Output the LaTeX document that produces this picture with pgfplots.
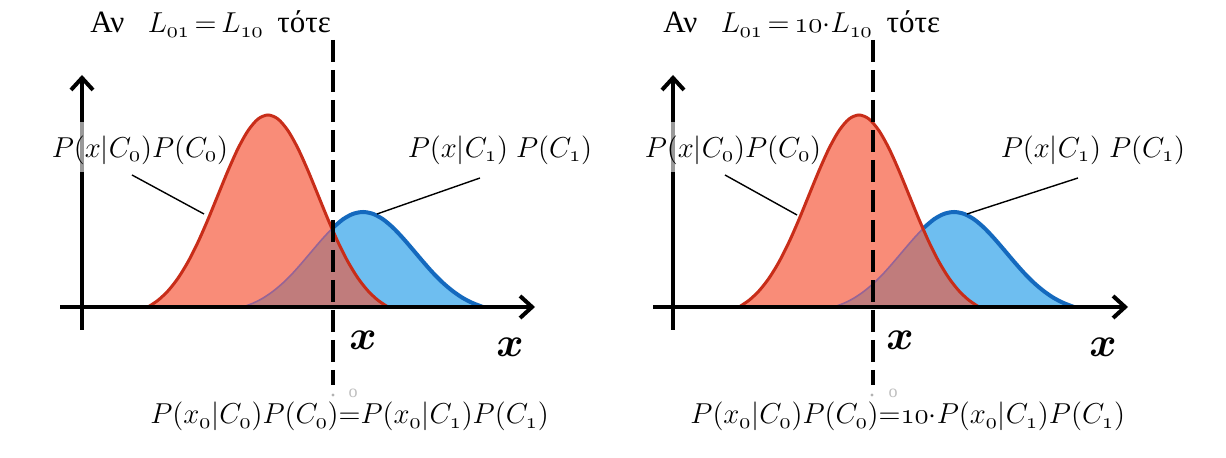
\documentclass[border=0pt]{standalone}
\usepackage{fontspec}
\setmainfont{Liberation Serif}
\usepackage{bm}
\usepackage{pgfplots}
\usepackage{pgfplotstable}
\pgfplotsset{compat=1.18}
\usetikzlibrary{arrows.meta}

\definecolor{redfill}{RGB}{249,140,120}
\definecolor{redline}{RGB}{200,45,25}
\definecolor{bluefill}{RGB}{110,190,240}
\definecolor{blueline}{RGB}{20,105,190}
\definecolor{overlapfill}{RGB}{192,124,124}
\definecolor{faintblue}{RGB}{150,100,150}

\newcommand{\os}[1]{\mathnormal{#1}}

% panel-relative x (y axis at 0), height above baseline
\pgfplotstableread{
x y
66 0
76 6.7
86 16.1
96 28.8
106 45.1
116 64.9
126 87.6
136 112.0
146 136.3
156 158.5
166 176.3
176 188.0
186 192.0
196 188.0
206 176.3
216 158.5
226 136.3
236 112.0
246 87.6
256 64.9
266 45.1
276 28.8
286 16.1
296 6.7
306 0
}\redtab

\pgfplotstableread{
x y
161 0
171 3.8
181 8.9
191 15.7
201 24.1
211 34.1
221 45.4
231 57.2
241 68.8
251 79.3
261 87.7
271 93.1
281 95.0
291 93.1
301 87.7
311 79.3
321 68.8
331 57.2
341 45.4
351 34.1
361 24.1
371 15.7
381 8.9
391 3.8
401 0
}\bluetab

\pgfplotstableread{
x y
251 79.3
261 87.7
271 93.1
281 95.0
291 93.1
301 87.7
311 79.3
321 68.8
331 57.2
341 45.4
351 34.1
361 24.1
371 15.7
381 8.9
391 3.8
401 0
}\bluerighttab

\pgfplotstableread{
x y
161 0
171 3.8
181 8.9
191 15.7
201 24.1
211 34.1
221 45.4
231 57.2
241 68.8
250 78.3
256 64.9
266 45.1
276 28.8
286 16.1
296 6.7
306 0
}\overtab

\newcommand{\curves}[1]{%
\addplot[draw=none, fill=bluefill, smooth] table[x expr=\thisrow{x}+#1, y=y] {\bluetab} \closedcycle;
\addplot[draw=none, fill=redfill, smooth] table[x expr=\thisrow{x}+#1, y=y] {\redtab} \closedcycle;
\addplot[draw=none, fill=overlapfill] table[x expr=\thisrow{x}+#1, y=y] {\overtab} \closedcycle;
\addplot[faintblue, line width=0.8pt, smooth] table[x expr=\thisrow{x}+#1, y=y] {\bluetab};
\addplot[blueline, line width=2pt, smooth] table[x expr=\thisrow{x}+#1, y=y] {\bluerighttab};
\addplot[redline, line width=1.5pt, smooth] table[x expr=\thisrow{x}+#1, y=y] {\redtab};
}

\begin{document}
\begin{tikzpicture}
\begin{axis}[hide axis, scale only axis, x=0.5pt, y=0.5pt,
  xmin=0, xmax=1226, ymin=-151, ymax=307, clip=false]
\fill[white] (axis cs:0,-151) rectangle (axis cs:1226,307);

% ---- left panel
\curves{82}
% ---- right panel
\curves{673}

% axes
\draw[line width=2pt, -{Straight Barb[length=6pt,width=11pt,line width=2pt]}] (axis cs:60,0) -- (axis cs:535,0);
\draw[line width=2pt, -{Straight Barb[length=6pt,width=11pt,line width=2pt]}] (axis cs:82,-23) -- (axis cs:82,232);
\draw[line width=2pt, -{Straight Barb[length=6pt,width=11pt,line width=2pt]}] (axis cs:653,0) -- (axis cs:1128,0);
\draw[line width=2pt, -{Straight Barb[length=6pt,width=11pt,line width=2pt]}] (axis cs:673,-23) -- (axis cs:673,232);

% dashed thresholds
\draw[line width=2.2pt, dash pattern=on 11pt off 4pt] (axis cs:333,267) -- (axis cs:333,-78);
\draw[line width=2.2pt, dash pattern=on 11pt off 4pt] (axis cs:873,267) -- (axis cs:873,-78);

% leader lines
\draw[line width=0.7pt] (axis cs:132,132) -- (axis cs:204,93);
\draw[line width=0.7pt] (axis cs:377,93) -- (axis cs:480,129);
\draw[line width=0.7pt] (axis cs:725,132) -- (axis cs:797,92);
\draw[line width=0.7pt] (axis cs:967,93) -- (axis cs:1078,129);

% veil over y axes behind labels
\fill[white, opacity=0.6] (axis cs:78,135) rectangle (axis cs:86,185);
\fill[white, opacity=0.6] (axis cs:669,135) rectangle (axis cs:677,185);

% titles
\node[anchor=base west, font=\fontsize{15.5}{18}\selectfont, inner sep=0pt] at (axis cs:90,274)
  {Αν\hspace{0.75em}$L_{\os{01}}\,{=}\,L_{\os{10}}$\hspace{0.45em}τότε};
\node[anchor=base west, font=\fontsize{15.5}{18}\selectfont, inner sep=0pt] at (axis cs:663,274)
  {Αν\hspace{0.75em}$L_{\os{01}}\,{=}\,\os{10}{\cdot}L_{\os{10}}$\hspace{0.45em}τότε};

% curve labels
\node[font=\fontsize{15.5}{17}\selectfont, inner sep=0pt] at (axis cs:140,157)
  {$P(x|C_{\os{0}})P(C_{\os{0}})$};
\node[font=\fontsize{15.5}{17}\selectfont, inner sep=0pt] at (axis cs:500,157)
  {$P(x|C_{\os{1}})\;P(C_{\os{1}})$};
\node[font=\fontsize{15.5}{17}\selectfont, inner sep=0pt] at (axis cs:733,157)
  {$P(x|C_{\os{0}})P(C_{\os{0}})$};
\node[font=\fontsize{15.5}{17}\selectfont, inner sep=0pt] at (axis cs:1093,157)
  {$P(x|C_{\os{1}})\;P(C_{\os{1}})$};

% x labels
\node[font=\fontsize{22}{24}\selectfont, inner sep=0pt] at (axis cs:363,-33) {$\bm{x}$};
\node[font=\fontsize{22}{24}\selectfont, inner sep=0pt] at (axis cs:510,-40) {$\bm{x}$};
\node[font=\fontsize{22}{24}\selectfont, inner sep=0pt] at (axis cs:900,-33) {$\bm{x}$};
\node[font=\fontsize{22}{24}\selectfont, inner sep=0pt] at (axis cs:1103,-40) {$\bm{x}$};

% faint subscripts
\node[font=\fontsize{9}{10}\selectfont, text=black!25, inner sep=0pt] at (axis cs:353,-86) {o};
\fill[black!30] (axis cs:333,-88) circle[radius=0.8pt];
\node[font=\fontsize{9}{10}\selectfont, text=black!25, inner sep=0pt] at (axis cs:893,-86) {o};
\fill[black!30] (axis cs:872,-88) circle[radius=0.8pt];

% bottom equations
\node[anchor=base west, font=\fontsize{15}{17}\selectfont, inner sep=0pt] at (axis cs:150,-117)
  {$P(x_{\os{0}}|C_{\os{0}})P(C_{\os{0}}){=}P(x_{\os{0}}|C_{\os{1}})P(C_{\os{1}})$};
\node[anchor=base west, font=\fontsize{15}{17}\selectfont, inner sep=0pt] at (axis cs:690,-117)
  {$P(x_{\os{0}}|C_{\os{0}})P(C_{\os{0}}){=}\os{10}{\cdot}P(x_{\os{0}}|C_{\os{1}})P(C_{\os{1}})$};
\end{axis}
\end{tikzpicture}
\end{document}
